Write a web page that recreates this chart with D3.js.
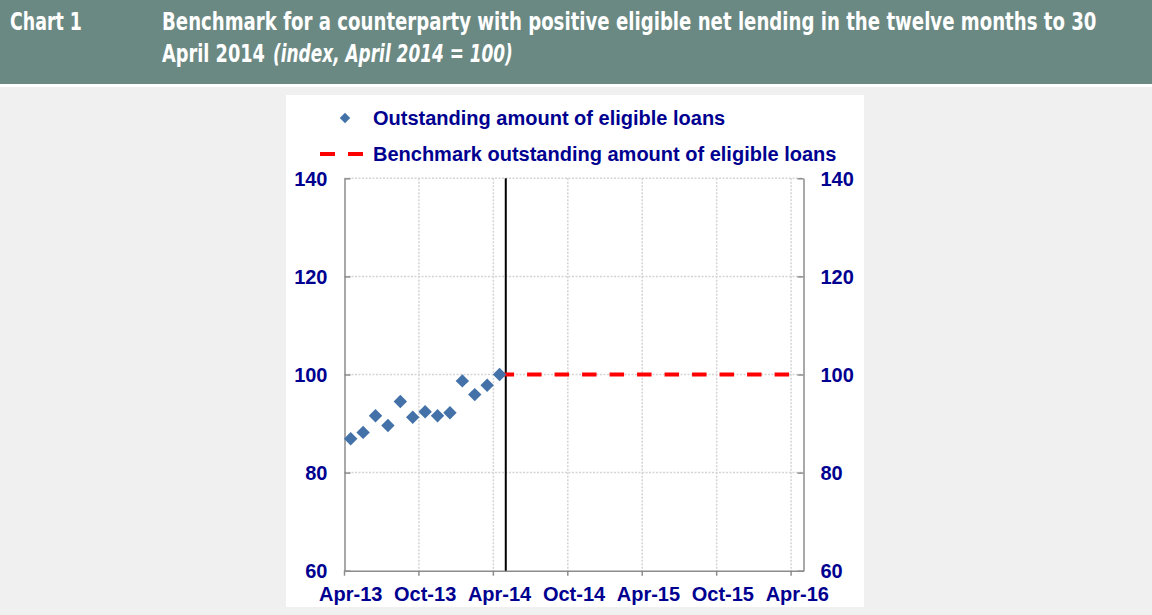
<!DOCTYPE html>
<html>
<head>
<meta charset="utf-8">
<script src="https://cdn.jsdelivr.net/npm/d3@7"></script>
<style>
  html, body { margin: 0; padding: 0; background: #f0f0f0; }
  svg { display: block; }
</style>
</head>
<body>
<svg id="chart" width="1152" height="615"></svg>
<script>
// ---- Data ----
const months = ["Apr-13","May-13","Jun-13","Jul-13","Aug-13","Sep-13","Oct-13","Nov-13","Dec-13",
  "Jan-14","Feb-14","Mar-14","Apr-14","May-14","Jun-14","Jul-14","Aug-14","Sep-14","Oct-14","Nov-14",
  "Dec-14","Jan-15","Feb-15","Mar-15","Apr-15","May-15","Jun-15","Jul-15","Aug-15","Sep-15","Oct-15",
  "Nov-15","Dec-15","Jan-16","Feb-16","Mar-16","Apr-16"];
const obsMonths = ["Apr-13","May-13","Jun-13","Jul-13","Aug-13","Sep-13","Oct-13","Nov-13","Dec-13",
  "Jan-14","Feb-14","Mar-14","Apr-14"];
const outstanding = [86.9, 88.2, 91.6, 89.6, 94.5, 91.3, 92.4, 91.6, 92.2, 98.7, 95.9, 97.8, 100];
const benchMonths = ["Apr-14","May-14","Jun-14","Jul-14","Aug-14","Sep-14","Oct-14","Nov-14",
  "Dec-14","Jan-15","Feb-15","Mar-15","Apr-15","May-15","Jun-15","Jul-15","Aug-15","Sep-15","Oct-15",
  "Nov-15","Dec-15","Jan-16","Feb-16","Mar-16","Apr-16"];
const benchmark = [100,100,100,100,100,100,100,100,100,100,100,100,100,100,100,100,100,100,100,100,100,100,100,100,100];
const xTickLabels = ["Apr-13","Oct-13","Apr-14","Oct-14","Apr-15","Oct-15","Apr-16"];
const yTicks = [60, 80, 100, 120, 140];
const cutoffMonth = "Apr-14";
const seriesNames = ["Outstanding amount of eligible loans", "Benchmark outstanding amount of eligible loans"];

// ---- Layout ----
const svg = d3.select("#chart");
const navy = "#000090";
const axisGray = "#8c8c8c";
const gridGray = "#d4d4d4";
const blue = "#4472a8";
const labelFont = "'Liberation Sans', Arial, sans-serif";
const titleFont = "'Liberation Sans Narrow', 'DejaVu Sans Condensed', 'Liberation Sans', sans-serif";

const plot = { left: 344.5, right: 803.5, top: 178.3, bottom: 570.7 };

// header
svg.append("rect").attr("x", 0).attr("y", 0).attr("width", 1152).attr("height", 84).attr("fill", "#6b8983");
svg.append("rect").attr("x", 0).attr("y", 84).attr("width", 1152).attr("height", 3).attr("fill", "#ffffff");

// title texts, horizontally squeezed to the reference widths
function titleText(str, x0, y0, width, italic) {
  const t = svg.append("text").attr("x", 0).attr("y", 0)
    .attr("font-family", titleFont).attr("font-weight", "bold").attr("font-size", 25)
    .attr("font-style", italic ? "italic" : "normal")
    .attr("fill", "#fff").text(str);
  const w = t.node().getComputedTextLength();
  const s = Math.min(1, width / w);
  t.attr("transform", `translate(${x0},${y0}) scale(${s},1)`);
  return t;
}
titleText("Chart 1", 10, 30, 72, false);
titleText("Benchmark for a counterparty with positive eligible net lending in the twelve months to 30", 162, 30, 935, false);
titleText("April 2014", 162, 62, 103, false);
titleText("(index, April 2014 = 100)", 273, 62, 240, true);

// white panel
svg.append("rect").attr("x", 286).attr("y", 95).attr("width", 578).attr("height", 512).attr("fill", "#fff");

// scales
const x = d3.scaleBand().domain(months).range([plot.left, plot.right]).padding(0);
const y = d3.scaleLinear().domain([60, 140]).range([plot.bottom, plot.top]);
const xc = m => x(m) + x.bandwidth() / 2;

// gridlines
const grid = svg.append("g").attr("stroke", gridGray).attr("stroke-width", 1.5).attr("stroke-dasharray", "2,1.5");
grid.selectAll("line.h").data(yTicks.filter(v => v > 60)).join("line")
  .attr("x1", plot.left).attr("x2", plot.right)
  .attr("y1", d => y(d)).attr("y2", d => y(d));
grid.selectAll("line.v").data(xTickLabels.slice(1)).join("line")
  .attr("x1", d => x(d)).attr("x2", d => x(d))
  .attr("y1", plot.top).attr("y2", plot.bottom);

// axes
const yLeft = svg.append("g").attr("transform", `translate(${plot.left},0)`)
  .call(d3.axisLeft(y).tickValues(yTicks).tickSizeInner(-6).tickSizeOuter(0).tickPadding(17));
const yRight = svg.append("g").attr("transform", `translate(${plot.right},0)`)
  .call(d3.axisRight(y).tickValues(yTicks).tickSizeInner(-6).tickSizeOuter(0).tickPadding(17));
const xAxis = svg.append("g").attr("transform", `translate(0,${plot.bottom})`)
  .call(d3.axisBottom(x).tickValues(xTickLabels).tickSize(0).tickPadding(16));
[yLeft, yRight, xAxis].forEach(g => {
  g.select(".domain").attr("stroke", axisGray).attr("stroke-width", 1.5);
  g.selectAll(".tick line").attr("stroke", axisGray).attr("stroke-width", 1.5);
  g.selectAll("text").attr("font-family", labelFont).attr("font-weight", "bold")
    .attr("font-size", 20).attr("fill", navy);
});
yLeft.selectAll(".tick text").attr("dy", "0.35em");
yRight.selectAll(".tick text").attr("dy", "0.35em");
// x tick marks at category boundaries
svg.append("g").selectAll("line").data(xTickLabels).join("line")
  .attr("x1", d => x(d)).attr("x2", d => x(d))
  .attr("y1", plot.bottom).attr("y2", plot.bottom + 5)
  .attr("stroke", axisGray).attr("stroke-width", 1.5);

// cutoff vertical line
const cutX = x(cutoffMonth) + x.bandwidth();
svg.append("line").attr("x1", cutX).attr("x2", cutX).attr("y1", plot.top).attr("y2", plot.bottom)
  .attr("stroke", "#000").attr("stroke-width", 2);

// benchmark dashed line
const line = d3.line().x((d, i) => xc(benchMonths[i])).y(d => y(d));
svg.append("path").datum(benchmark).attr("d", line)
  .attr("fill", "none").attr("stroke", "#ff0000").attr("stroke-width", 4)
  .attr("stroke-dasharray", "14.5,13");

// diamonds
const diamond = d3.symbol().type(d3.symbolDiamond2).size(115);
svg.append("g").selectAll("path").data(outstanding).join("path")
  .attr("d", diamond)
  .attr("transform", (d, i) => `translate(${xc(obsMonths[i])},${y(d)})`)
  .attr("fill", blue);

// legend
const leg = svg.append("g");
leg.append("path").attr("d", d3.symbol().type(d3.symbolDiamond2).size(70))
  .attr("transform", "translate(345,118)").attr("fill", blue);
leg.append("line").attr("x1", 320).attr("x2", 363).attr("y1", 154).attr("y2", 154)
  .attr("stroke", "#ff0000").attr("stroke-width", 4).attr("stroke-dasharray", "15,13");
leg.selectAll("text").data(seriesNames).join("text")
  .attr("x", 373).attr("y", (d, i) => 125 + i * 36)
  .attr("font-family", labelFont).attr("font-weight", "bold").attr("font-size", 20)
  .attr("fill", navy).text(d => d);
</script>
</body>
</html>
